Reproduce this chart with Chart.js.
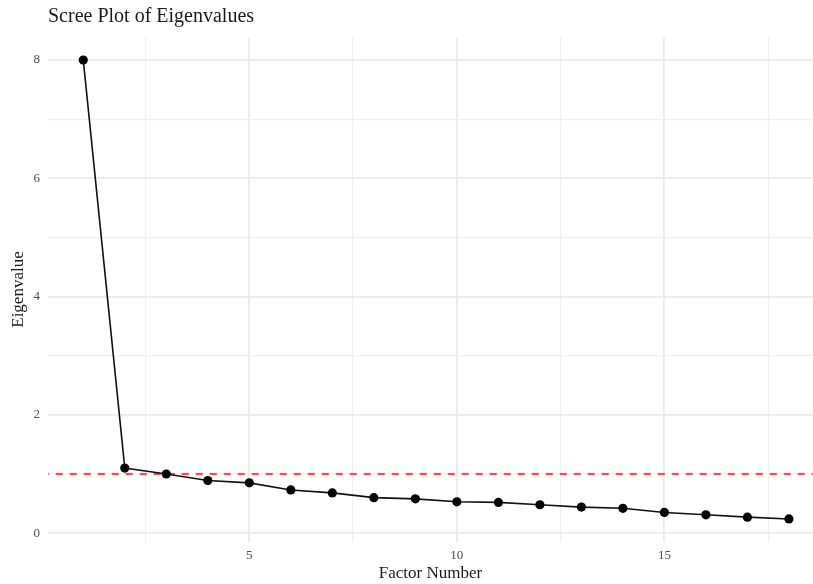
<!DOCTYPE html>
<html>
<head>
<meta charset="utf-8">
<script src="https://cdn.jsdelivr.net/npm/chart.js@4.4.1/dist/chart.umd.min.js"></script>
<style>
  html, body { margin: 0; padding: 0; background: #fff; overflow: hidden; }
  #wrap { width: 813px; height: 584px; }
</style>
</head>
<body>
<div id="wrap"><canvas id="scree"></canvas></div>
<script>
// data
const factors = [1, 2, 3, 4, 5, 6, 7, 8, 9, 10, 11, 12, 13, 14, 15, 16, 17, 18];
const eigenvalues = [8.0, 1.10, 1.00, 0.89, 0.85, 0.73, 0.68, 0.60, 0.58, 0.53, 0.52, 0.48, 0.44, 0.42, 0.35, 0.31, 0.27, 0.24];
const cutoff = 1;
const xTicks = [2.5, 5, 7.5, 10, 12.5, 15, 17.5];
const xLabels = [5, 10, 15];
const yTicks = [0, 1, 2, 3, 4, 5, 6, 7, 8];
const yLabels = [0, 2, 4, 6, 8];

const serif = "'Liberation Serif', 'DejaVu Serif', serif";

// title is drawn over the panel, like ggplot does
const titlePlugin = {
  id: "panelTitle",
  afterDraw(chart) {
    const ctx = chart.ctx;
    ctx.save();
    ctx.font = "20px " + serif;
    ctx.fillStyle = "#1a1a1a";
    ctx.textBaseline = "middle";
    ctx.fillText("Scree Plot of Eigenvalues", chart.chartArea.left, 17);
    ctx.restore();
  },
};

const isMajor = (v, list) => list.includes(v);

new Chart(document.getElementById("scree"), {
  type: "line",
  data: {
    datasets: [
      {
        label: "cutoff",
        data: [{ x: 0, y: cutoff }, { x: 19, y: cutoff }],
        borderColor: "rgba(255, 30, 30, 0.8)",
        borderWidth: 2.2,
        borderDash: [7, 7],
        pointRadius: 0,
        order: 2,
      },
      {
        label: "Eigenvalue",
        data: factors.map((f, i) => ({ x: f, y: eigenvalues[i] })),
        borderColor: "#111",
        borderWidth: 1.6,
        backgroundColor: "#000",
        pointRadius: 4.6,
        pointBorderWidth: 0,
        tension: 0,
        order: 1,
      },
    ],
  },
  plugins: [titlePlugin],
  options: {
    responsive: true,
    maintainAspectRatio: false,
    animation: false,
    layout: { autoPadding: false, padding: { top: 37, right: 0, left: 0, bottom: 0 } },
    plugins: {
      legend: { display: false },
      tooltip: { enabled: false },
    },
    scales: {
      x: {
        type: "linear",
        min: 0.15,
        max: 18.58,
        afterBuildTicks: (s) => { s.ticks = xTicks.map((v) => ({ value: v })); },
        afterFit: (s) => { s.height = 42; },
        border: { display: false },
        grid: {
          drawTicks: false,
          color: (c) => (isMajor(c.tick && c.tick.value, xLabels) ? "#ebebeb" : "#f0f0f0"),
          lineWidth: (c) => (isMajor(c.tick && c.tick.value, xLabels) ? 1.8 : 1.2),
        },
        ticks: {
          padding: 6,
          autoSkip: false,
          maxRotation: 0,
          color: "#4d4d4d",
          font: { family: serif, size: 13 },
          callback: (v) => (xLabels.includes(v) ? String(v) : ""),
        },
        title: {
          display: true,
          text: "Factor Number",
          color: "#1a1a1a",
          font: { family: serif, size: 17 },
          padding: { top: 1, bottom: 0 },
        },
      },
      y: {
        type: "linear",
        min: -0.15,
        max: 8.39,
        afterBuildTicks: (s) => { s.ticks = yTicks.map((v) => ({ value: v })); },
        afterFit: (s) => { s.width = 48; },
        border: { display: false },
        grid: {
          drawTicks: false,
          color: (c) => (isMajor(c.tick && c.tick.value, yLabels) ? "#ebebeb" : "#f0f0f0"),
          lineWidth: (c) => (isMajor(c.tick && c.tick.value, yLabels) ? 1.8 : 1.2),
        },
        ticks: {
          padding: 8,
          autoSkip: false,
          color: "#4d4d4d",
          font: { family: serif, size: 13 },
          callback: (v) => (yLabels.includes(v) ? String(v) : ""),
        },
        title: {
          display: true,
          text: "Eigenvalue",
          color: "#1a1a1a",
          font: { family: serif, size: 17 },
          padding: { top: 8, bottom: 0 },
        },
      },
    },
  },
});
</script>
</body>
</html>
